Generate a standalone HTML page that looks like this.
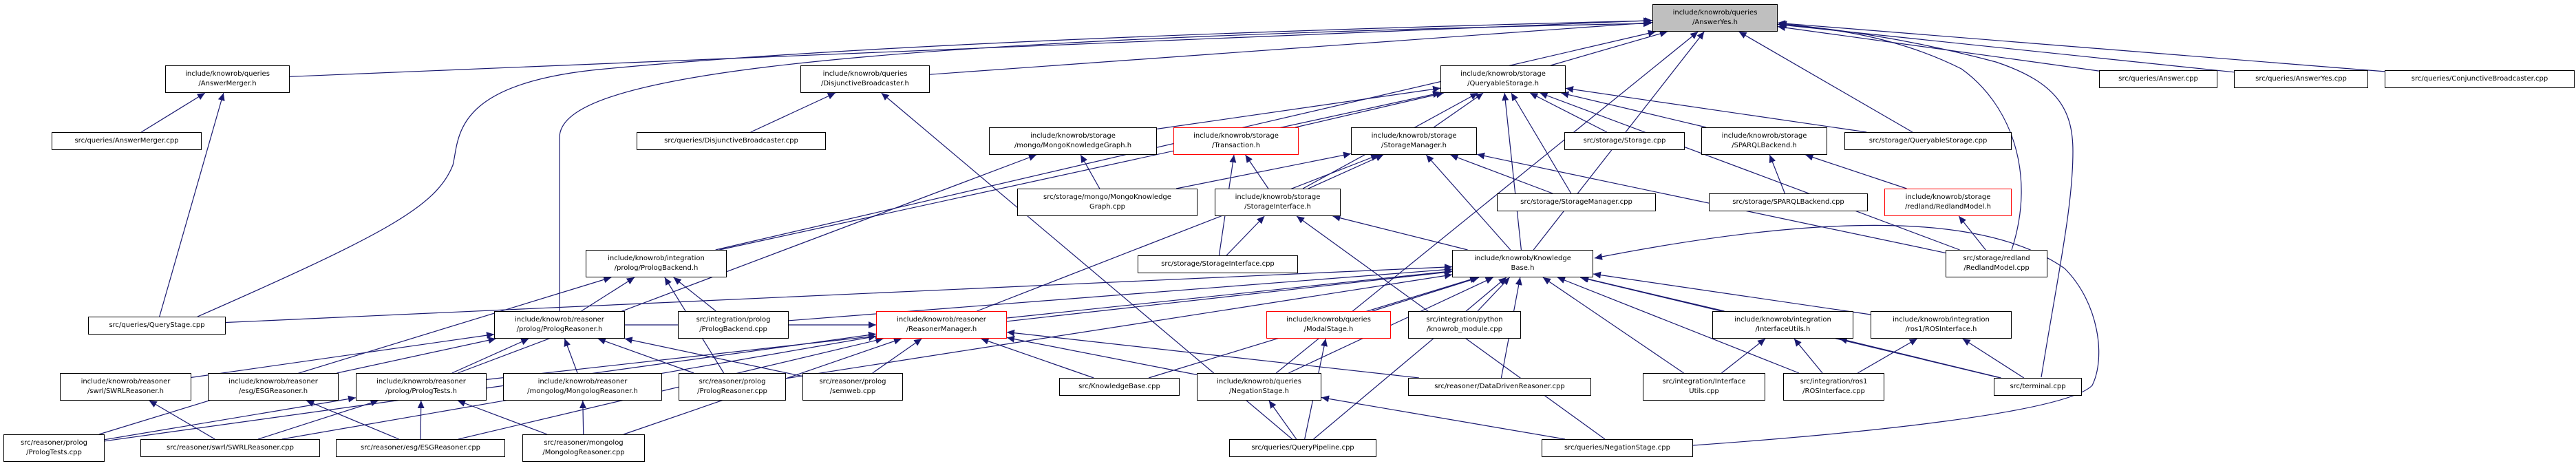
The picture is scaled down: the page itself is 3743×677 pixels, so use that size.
<!DOCTYPE html>
<html><head><meta charset="utf-8"><style>
html,body{margin:0;padding:0;background:#fff;width:3743px;height:677px;overflow:hidden;position:relative}
.n{position:absolute;box-sizing:border-box;border:1px solid #000;background:#fff;font-family:"DejaVu Sans","Liberation Sans",sans-serif;font-size:10px;line-height:14px;text-align:center;display:flex;align-items:center;justify-content:center;white-space:nowrap;color:#000}
.r{border-color:#f00}
.g{background:#bfbfbf}
svg{position:absolute;left:0;top:0}
</style></head><body>
<svg id="s" width="3743" height="677" xmlns="http://www.w3.org/2000/svg">
<defs><marker id="a" markerUnits="userSpaceOnUse" markerWidth="12" markerHeight="10" refX="11" refY="5" orient="auto"><path d="M0,0 L11,5 L0,10 z" fill="#191970"/></marker></defs>
<g id="e" stroke="#191970" stroke-width="1.2" fill="none">
</g>
<g stroke="#191970" stroke-width="1.2" fill="none">
<path d="M287,460 C560,340 634,300 658,240 C668,200 655,120 880,100 C1300,60 2000,40 2399,30" marker-end="url(#a)"/>
<path d="M813,452 L813,200 C813,120 1100,60 2399,34" marker-end="url(#a)"/>
<path d="M2966,548 C2990,400 3012,300 3012,220 C3012,160 2990,120 2900,90 C2750,50 2640,40 2585,34" marker-end="url(#a)"/>
<path d="M2923,363 C2960,250 2920,150 2850,100 C2750,50 2650,40 2585,36" marker-end="url(#a)"/>
<path d="M2460,647 C2700,630 3000,600 3040,560 C3060,520 3050,440 3000,390 C2900,320 2700,300 2317,375" marker-end="url(#a)"/>
</g>
</svg>
<div class="n g" id="ay" style="left:2401px;top:6px;width:182px;height:40px">include/knowrob/queries<br>/AnswerYes.h</div>
<div class="n" id="am" style="left:240px;top:95px;width:181px;height:40px">include/knowrob/queries<br>/AnswerMerger.h</div>
<div class="n" id="db" style="left:1163px;top:95px;width:188px;height:40px">include/knowrob/queries<br>/DisjunctiveBroadcaster.h</div>
<div class="n" id="qs" style="left:2093px;top:95px;width:182px;height:40px">include/knowrob/storage<br>/QueryableStorage.h</div>
<div class="n" id="ans" style="left:3050px;top:102px;width:172px;height:26px">src/queries/Answer.cpp</div>
<div class="n" id="ayc" style="left:3246px;top:102px;width:195px;height:26px">src/queries/AnswerYes.cpp</div>
<div class="n" id="cb" style="left:3465px;top:102px;width:276px;height:26px">src/queries/ConjunctiveBroadcaster.cpp</div>
<div class="n" id="amc" style="left:75px;top:192px;width:218px;height:26px">src/queries/AnswerMerger.cpp</div>
<div class="n" id="dbc" style="left:925px;top:192px;width:275px;height:26px">src/queries/DisjunctiveBroadcaster.cpp</div>
<div class="n" id="mkg" style="left:1437px;top:185px;width:244px;height:40px">include/knowrob/storage<br>/mongo/MongoKnowledgeGraph.h</div>
<div class="n r" id="tr" style="left:1705px;top:185px;width:182px;height:40px">include/knowrob/storage<br>/Transaction.h</div>
<div class="n" id="sm" style="left:1963px;top:185px;width:183px;height:40px">include/knowrob/storage<br>/StorageManager.h</div>
<div class="n" id="stc" style="left:2273px;top:192px;width:175px;height:26px">src/storage/Storage.cpp</div>
<div class="n" id="sp" style="left:2472px;top:185px;width:183px;height:40px">include/knowrob/storage<br>/SPARQLBackend.h</div>
<div class="n" id="qsc" style="left:2680px;top:192px;width:243px;height:26px">src/storage/QueryableStorage.cpp</div>
<div class="n" id="mkgc" style="left:1478px;top:274px;width:262px;height:40px">src/storage/mongo/MongoKnowledge<br>Graph.cpp</div>
<div class="n" id="si" style="left:1765px;top:274px;width:183px;height:40px">include/knowrob/storage<br>/StorageInterface.h</div>
<div class="n" id="smc" style="left:2175px;top:281px;width:231px;height:26px">src/storage/StorageManager.cpp</div>
<div class="n" id="spc" style="left:2483px;top:281px;width:231px;height:26px">src/storage/SPARQLBackend.cpp</div>
<div class="n r" id="rmh" style="left:2738px;top:274px;width:185px;height:40px">include/knowrob/storage<br>/redland/RedlandModel.h</div>
<div class="n" id="pb" style="left:851px;top:363px;width:205px;height:40px">include/knowrob/integration<br>/prolog/PrologBackend.h</div>
<div class="n" id="sic" style="left:1653px;top:371px;width:233px;height:26px">src/storage/StorageInterface.cpp</div>
<div class="n" id="kb" style="left:2110px;top:363px;width:205px;height:40px">include/knowrob/Knowledge<br>Base.h</div>
<div class="n" id="rmc" style="left:2827px;top:363px;width:148px;height:40px">src/storage/redland<br>/RedlandModel.cpp</div>
<div class="n" id="qst" style="left:128px;top:460px;width:200px;height:26px">src/queries/QueryStage.cpp</div>
<div class="n" id="pr" style="left:718px;top:452px;width:190px;height:40px">include/knowrob/reasoner<br>/prolog/PrologReasoner.h</div>
<div class="n" id="pbc" style="left:985px;top:452px;width:161px;height:40px">src/integration/prolog<br>/PrologBackend.cpp</div>
<div class="n r" id="rm" style="left:1273px;top:452px;width:190px;height:40px">include/knowrob/reasoner<br>/ReasonerManager.h</div>
<div class="n r" id="ms" style="left:1840px;top:452px;width:181px;height:40px">include/knowrob/queries<br>/ModalStage.h</div>
<div class="n" id="kmc" style="left:2046px;top:452px;width:164px;height:40px">src/integration/python<br>/knowrob_module.cpp</div>
<div class="n" id="iu" style="left:2488px;top:452px;width:205px;height:40px">include/knowrob/integration<br>/InterfaceUtils.h</div>
<div class="n" id="ros" style="left:2718px;top:452px;width:205px;height:40px">include/knowrob/integration<br>/ros1/ROSInterface.h</div>
<div class="n" id="swh" style="left:87px;top:542px;width:191px;height:40px">include/knowrob/reasoner<br>/swrl/SWRLReasoner.h</div>
<div class="n" id="esh" style="left:302px;top:542px;width:190px;height:40px">include/knowrob/reasoner<br>/esg/ESGReasoner.h</div>
<div class="n" id="pth" style="left:517px;top:542px;width:190px;height:40px">include/knowrob/reasoner<br>/prolog/PrologTests.h</div>
<div class="n" id="mgh" style="left:731px;top:542px;width:231px;height:40px">include/knowrob/reasoner<br>/mongolog/MongologReasoner.h</div>
<div class="n" id="prc" style="left:986px;top:542px;width:156px;height:40px">src/reasoner/prolog<br>/PrologReasoner.cpp</div>
<div class="n" id="sem" style="left:1166px;top:542px;width:146px;height:40px">src/reasoner/prolog<br>/semweb.cpp</div>
<div class="n" id="kbc" style="left:1539px;top:549px;width:175px;height:26px">src/KnowledgeBase.cpp</div>
<div class="n" id="nsh" style="left:1739px;top:542px;width:181px;height:40px">include/knowrob/queries<br>/NegationStage.h</div>
<div class="n" id="ddr" style="left:2046px;top:549px;width:266px;height:26px">src/reasoner/DataDrivenReasoner.cpp</div>
<div class="n" id="iuc" style="left:2387px;top:542px;width:178px;height:40px">src/integration/Interface<br>Utils.cpp</div>
<div class="n" id="rosc" style="left:2591px;top:542px;width:147px;height:40px">src/integration/ros1<br>/ROSInterface.cpp</div>
<div class="n" id="term" style="left:2897px;top:549px;width:128px;height:26px">src/terminal.cpp</div>
<div class="n" id="ptc" style="left:5px;top:631px;width:147px;height:40px">src/reasoner/prolog<br>/PrologTests.cpp</div>
<div class="n" id="swc" style="left:204px;top:638px;width:261px;height:26px">src/reasoner/swrl/SWRLReasoner.cpp</div>
<div class="n" id="esc" style="left:488px;top:638px;width:246px;height:26px">src/reasoner/esg/ESGReasoner.cpp</div>
<div class="n" id="mgc" style="left:759px;top:631px;width:178px;height:40px">src/reasoner/mongolog<br>/MongologReasoner.cpp</div>
<div class="n" id="qp" style="left:1786px;top:638px;width:214px;height:26px">src/queries/QueryPipeline.cpp</div>
<div class="n" id="nsc" style="left:2240px;top:638px;width:220px;height:26px">src/queries/NegationStage.cpp</div>
<script>
var E=[
["am","ay"],["db","ay"],["qs","ay"],["ans","ay"],["ayc","ay"],["cb","ay"],["pb","ay"],["nsh","ay"],["qsc","ay"],["kb","ay"],
["amc","am"],["qst","am"],["dbc","db"],["qp","db"],
["mkg","qs"],["tr","qs"],["sm","qs"],["stc","qs"],["sp","qs"],["qsc","qs"],["si","qs"],["smc","qs"],["pb","qs"],["kb","qs"],["rmc","qs"],
["mkgc","mkg"],["pth","mkg"],["si","tr"],["sic","tr"],
["mkgc","sm"],["si","sm"],["smc","sm"],["kb","sm"],["rm","sm"],["rmc","sm"],
["sic","si"],["kb","si"],["nsc","si"],["spc","sp"],["rmh","sp"],["rmc","rmh"],
["pr","pb"],["pbc","pb"],["prc","pb"],["ptc","pb"],
["rm","kb"],["ms","kb"],["kmc","kb"],["nsh","kb"],["ddr","kb"],["iu","kb"],["ros","kb"],["iuc","kb"],["rosc","kb"],["term","kb"],["qp","kb"],["kbc","kb"],["qst","kb"],["pbc","kb"],["pth","kb"],["prc","kb"],
["swh","pr"],["esh","pr"],["pth","pr"],["mgh","pr"],["prc","pr"],["sem","pr"],
["pr","rm"],["sem","rm"],["kbc","rm"],["nsh","rm"],["ddr","rm"],["swc","rm"],["esc","rm"],["mgc","rm"],["ptc","rm"],
["ptc","pth"],["swc","pth"],["esc","pth"],["mgc","pth"],
["swc","swh"],["esc","esh"],["mgc","mgh"],["qp","ms"],["qp","nsh"],["nsc","nsh"],
["iuc","iu"],["rosc","iu"],["term","iu"],["rosc","ros"],["term","ros"]];
function B(id){var e=document.getElementById(id);return {x:e.offsetLeft,y:e.offsetTop,w:e.offsetWidth,h:e.offsetHeight};}
function clip(b,px,py){var cx=b.x+b.w/2,cy=b.y+b.h/2,dx=px-cx,dy=py-cy;var t=Math.min(dx?Math.abs(b.w/2/dx):1e9,dy?Math.abs(b.h/2/dy):1e9);return [cx+dx*t,cy+dy*t];}
var g=document.getElementById("e"),s="";
E.forEach(function(p){var a=B(p[0]),b=B(p[1]);var ac=[a.x+a.w/2,a.y+a.h/2],bc=[b.x+b.w/2,b.y+b.h/2];
var p1=clip(a,bc[0],bc[1]),p2=clip(b,ac[0],ac[1]);
s+='<line x1="'+p1[0].toFixed(1)+'" y1="'+p1[1].toFixed(1)+'" x2="'+p2[0].toFixed(1)+'" y2="'+p2[1].toFixed(1)+'" marker-end="url(#a)"/>';});
g.innerHTML=s;
</script>
</body></html>
